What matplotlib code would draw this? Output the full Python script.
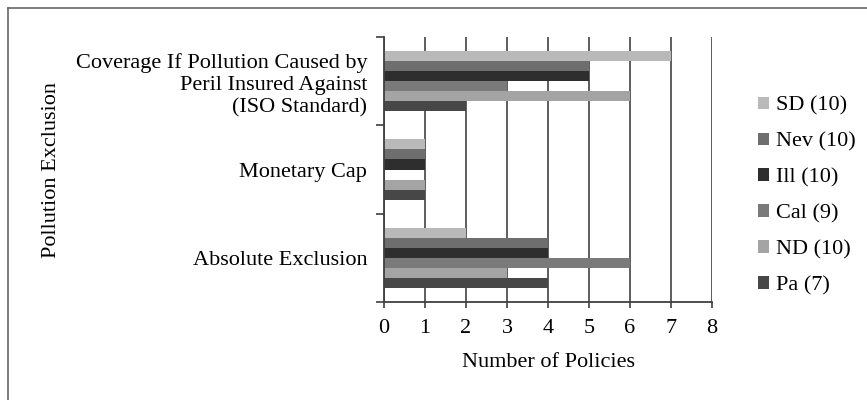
import numpy as np
import matplotlib.pyplot as plt
from matplotlib.patches import Patch
from matplotlib.lines import Line2D

plt.rcParams['font.family'] = ['Liberation Serif', 'DejaVu Serif']

# categories, bottom to top
categories = ['Absolute Exclusion', 'Monetary Cap',
              'Coverage If Pollution Caused by\nPeril Insured Against\n(ISO Standard)']

# series, plotted bottom to top within each group
series = ['Pa (7)', 'ND (10)', 'Cal (9)', 'Ill (10)', 'Nev (10)', 'SD (10)']
pa = [4, 1, 2]
nd = [3, 1, 6]
cal = [6, 0, 3]
ill = [4, 1, 5]
nev = [4, 1, 5]
sd = [2, 1, 7]
values = [pa, nd, cal, ill, nev, sd]
colors = ['#474747', '#a4a4a4', '#7a7a7a', '#2e2e2e', '#6e6e6e', '#b9b9b9']

fs = 16

fig = plt.figure(figsize=(8.67, 4.0), dpi=100)
ax = fig.add_axes([384 / 867, 98 / 400, 328 / 867, 265 / 400])

y = np.arange(len(categories))
group = 0.68
h = group / len(series)
for i, (vals, c) in enumerate(zip(values, colors)):
    ax.barh(y - group / 2 + h * (i + 0.5), vals, height=h, color=c, zorder=2)

ax.set_xlim(0, 8)
ax.set_ylim(-0.5, 2.5)
ax.set_xticks(range(9))
ax.grid(axis='x', color='#505050', linewidth=1.3, zorder=1)
ax.set_axisbelow(True)
for s in ['top', 'right']:
    ax.spines[s].set_visible(False)
for s in ['left', 'bottom']:
    ax.spines[s].set_color('#404040')
    ax.spines[s].set_linewidth(1.3)

ax.set_yticks(y)
ax.set_yticklabels(categories, fontsize=fs, linespacing=1.2)
ax.set_yticks([-0.5, 0.5, 1.5, 2.5], minor=True)
ax.tick_params(axis='y', which='major', length=0, pad=12)
ax.tick_params(axis='y', which='minor', length=6, width=1.2, color='#404040')
ax.tick_params(axis='x', labelsize=fs, length=4, width=1.2, color='#404040', pad=8)

ax.set_xlabel('Number of Policies', fontsize=fs, labelpad=11)
fig.text(52 / 867, 1 - 170 / 400, 'Pollution Exclusion', rotation=90,
         fontsize=fs, ha='center', va='center')

handles = [Patch(facecolor=c) for c in colors][::-1]
fig.legend(handles, series[::-1], loc='center left',
           bbox_to_anchor=(758 / 867, 1 - 196 / 400), frameon=False,
           fontsize=fs, handlelength=0.5, handleheight=0.5,
           handletextpad=0.3, labelspacing=0.75, borderpad=0, borderaxespad=0)

# chart area border (left and top edges visible)
fig.add_artist(Line2D([8 / 867, 8 / 867], [0, 1 - 8 / 400], color='#666666', lw=1.2))
fig.add_artist(Line2D([8 / 867, 1], [1 - 8 / 400, 1 - 8 / 400], color='#666666', lw=1.2))

fig.savefig('out.png', dpi=100)
